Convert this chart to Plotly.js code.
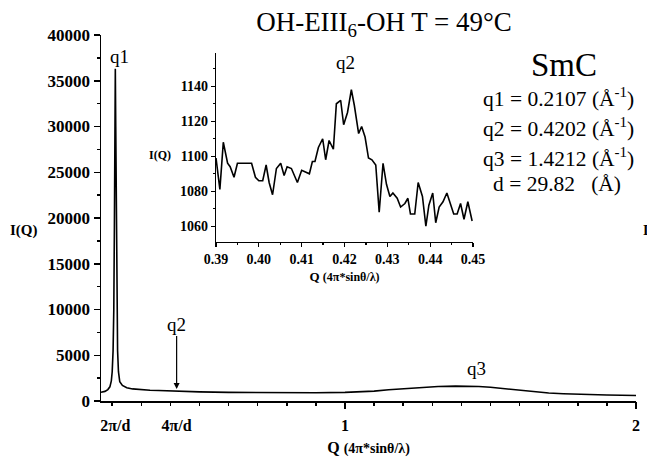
<!DOCTYPE html>
<html><head><meta charset="utf-8">
<script src="https://cdn.plot.ly/plotly-3.0.1.min.js"></script>
<style>body{margin:0;background:#fff}</style></head>
<body><div id="chart" style="width:647px;height:464px"></div>
<script>
// Main SAXS/WAXS profile
const mainQ = [0.1615,0.175,0.185,0.192,0.197,0.200,0.203,0.2055,0.2075,0.2092,0.2107,0.2122,0.2140,0.2160,0.2185,0.2215,0.226,0.235,0.25,0.27,0.295,0.33,0.36,0.39,0.42,0.45,0.5,0.6,0.7,0.8,0.9,1.0,1.05,1.1,1.15,1.2,1.26,1.32,1.38,1.42,1.46,1.5,1.55,1.6,1.65,1.7,1.75,1.8,1.9,2.0];
const mainI = [960,1050,1250,1550,2200,3200,5500,10000,19000,30000,36300,30000,19000,10000,5500,3200,2100,1700,1450,1320,1230,1170,1140,1100,1110,1065,1000,940,910,900,905,940,990,1080,1230,1350,1500,1590,1630,1630,1590,1500,1350,1170,1000,880,800,740,660,600];

// Inset (zoom around q2)
const insetQ = [0.3900,0.3909,0.3917,0.3927,0.3933,0.3942,0.3950,0.3960,0.3972,0.3983,0.3992,0.4000,0.4009,0.4017,0.4024,0.4032,0.4041,0.4051,0.4059,0.4066,0.4076,0.4084,0.4090,0.4100,0.4110,0.4118,0.4125,0.4131,0.4139,0.4149,0.4156,0.4164,0.4174,0.4181,0.4191,0.4198,0.4207,0.4216,0.4223,0.4233,0.4240,0.4248,0.4256,0.4264,0.4273,0.4281,0.4290,0.4298,0.4306,0.4313,0.4323,0.4331,0.4341,0.4348,0.4354,0.4364,0.4372,0.4382,0.4390,0.4397,0.4406,0.4413,0.4421,0.4430,0.4439,0.4447,0.4455,0.4463,0.4471,0.4479,0.4488,0.4498];
const insetI = [1099,1081,1108,1096,1094,1088,1096,1096,1096,1096,1088,1086,1086,1095,1085,1078,1093,1096,1089,1094,1093,1088,1085,1092,1091,1090,1097,1097,1105,1110,1098,1109,1104,1130,1132,1118,1125,1138,1129,1113,1117,1111,1099,1098,1095,1068,1096,1084,1077,1079,1076,1071,1073,1076,1067,1067,1085,1077,1060,1072,1079,1062,1071,1074,1079,1073,1067,1067,1073,1064,1074,1063];

const xTickVals = [0.2107, 0.4214, 1, 2];
const xTickText = ['2π/d', '4π/d', '1', '2'];
const peakQ = {q1: 0.2107, q2: 0.4214, q2inset: 0.4202, q3: 1.4212};

const SERIF = 'Liberation Serif, Times New Roman, serif';
const MAINX = [0.1615, 2.0];

const traces = [
  {x: mainQ, y: mainI, type: 'scatter', mode: 'lines', line: {color: '#000', width: 1.6}, xaxis: 'x', yaxis: 'y', hoverinfo: 'skip'},
  // same data on the tick-mark overlay axis (transparent), so that axis is drawn
  {x: mainQ, y: mainI, type: 'scatter', mode: 'lines', line: {color: 'rgba(0,0,0,0)', width: 0}, xaxis: 'x3', yaxis: 'y', hoverinfo: 'skip'},
  {x: insetQ, y: insetI, type: 'scatter', mode: 'lines', line: {color: '#000', width: 1.6}, xaxis: 'x2', yaxis: 'y2', hoverinfo: 'skip'}
];

const bold = (s) => ({family: SERIF, size: s, color: '#000', weight: 'bold'});
const reg = (s) => ({family: SERIF, size: s, color: '#000'});
const px = (v) => (v - 101) / 535;
const py = (v) => (401 - v) / 366;
const note = (text, x, y, font) => ({text, xref: 'paper', yref: 'paper', x: px(x), y: py(y), xanchor: 'center', yanchor: 'middle', showarrow: false, font});

const layout = {
  width: 647, height: 464,
  margin: {l: 101, r: 11, t: 35, b: 63},
  paper_bgcolor: '#fff', plot_bgcolor: 'rgba(0,0,0,0)',
  showlegend: false,
  title: {text: 'OH-EIII<sub>6</sub>-OH T = 49°C', font: reg(27), xref: 'container', x: 384/647, xanchor: 'center', yref: 'container', y: 1 - 22/464, yanchor: 'middle'},
  xaxis: {
    range: MAINX, tickmode: 'array', tickvals: xTickVals, ticktext: xTickText,
    ticks: '', ticklabelstandoff: 9, tickfont: bold(16),
    showline: true, linecolor: '#000', linewidth: 1.5, showgrid: false, zeroline: false,
    title: {text: 'Q <span style="font-size:14px">(4π*sinθ/λ)</span>', font: bold(16), standoff: 9}
  },
  xaxis3: {
    overlaying: 'x', anchor: 'y', side: 'bottom', range: MAINX,
    tickmode: 'array', tickvals: [1, 2], ticks: 'outside', ticklen: 7, tickwidth: 1.5, tickcolor: '#000',
    minor: {tickmode: 'linear', tick0: 0, dtick: 0.1, ticks: 'outside', ticklen: 4, tickwidth: 1.5, tickcolor: '#000'},
    showticklabels: false, showline: false, showgrid: false, zeroline: false
  },
  yaxis: {
    range: [0, 40000], tickmode: 'linear', tick0: 0, dtick: 5000, tickformat: 'd',
    ticks: 'outside', ticklen: 6, tickwidth: 1.5, tickcolor: '#000', tickfont: bold(17),
    minor: {dtick: 2500, ticks: 'outside', ticklen: 3, tickwidth: 1.5, tickcolor: '#000'},
    showline: true, linecolor: '#000', linewidth: 1.5, showgrid: false, zeroline: false
  },
  xaxis2: {
    domain: [0.215, 0.6953], anchor: 'y2', range: [0.39, 0.45],
    tickmode: 'linear', tick0: 0.39, dtick: 0.01, tickformat: '.2f',
    ticks: 'outside', ticklen: 4, tickwidth: 1.2, tickcolor: '#000', tickfont: bold(14),
    minor: {dtick: 0.005, ticks: 'outside', ticklen: 2, tickwidth: 1.2, tickcolor: '#000'},
    showline: true, linecolor: '#000', linewidth: 1.3, showgrid: false, zeroline: false,
    title: {text: 'Q <span style="font-size:12px">(4π*sinθ/λ)</span>', font: bold(13), standoff: 5}
  },
  yaxis2: {
    domain: [0.4344, 0.9508], anchor: 'x2', range: [1051, 1159],
    tickmode: 'linear', tick0: 1060, dtick: 20,
    ticks: 'outside', ticklen: 4, tickwidth: 1.2, tickcolor: '#000', tickfont: bold(14),
    minor: {dtick: 10, ticks: 'outside', ticklen: 2, tickwidth: 1.2, tickcolor: '#000'},
    showline: true, linecolor: '#000', linewidth: 1.3, showgrid: false, zeroline: false
  },
  annotations: [
    // axis titles drawn horizontally
    note('I(Q)', 24, 230, bold(15)),
    note('I(Q)', 160, 155, bold(12)),
    // peak labels
    {text: 'q1', x: peakQ.q1, y: 37660, xref: 'x', yref: 'y', xshift: 4, xanchor: 'center', yanchor: 'middle', showarrow: false, font: reg(19)},
    {text: 'q2', x: peakQ.q2, y: 1300, xref: 'x', yref: 'y', showarrow: true, arrowhead: 2, arrowsize: 1, arrowwidth: 1.2, arrowcolor: '#000', ax: 0, ay: -65, font: reg(19)},
    {text: 'q3', x: peakQ.q3, y: 3560, xref: 'x', yref: 'y', xshift: 9, xanchor: 'center', yanchor: 'middle', showarrow: false, font: reg(19)},
    {text: 'q2', x: peakQ.q2inset, y: 1153.5, xref: 'x2', yref: 'y2', xanchor: 'center', yanchor: 'middle', showarrow: false, font: reg(19)},
    // phase info
    note('SmC', 564, 65, reg(33)),
    note('q1 = 0.2107 (Å<sup>-1</sup>)', 558, 98, reg(21.5)),
    note('q2 = 0.4202 (Å<sup>-1</sup>)', 558, 128, reg(21.5)),
    note('q3 = 1.4212 (Å<sup>-1</sup>)', 558, 157, reg(21.5)),
    note('d = 29.82\u00a0\u00a0\u00a0(Å)', 556.5, 184, reg(21.5)),
    // clipped label at right edge
    {text: 'I', xref: 'paper', yref: 'paper', x: px(641), xanchor: 'left', y: py(231), yanchor: 'middle', showarrow: false, font: bold(14)}
  ]
};

Plotly.newPlot('chart', traces, layout, {displayModeBar: false, staticPlot: true});
</script>
</body></html>
